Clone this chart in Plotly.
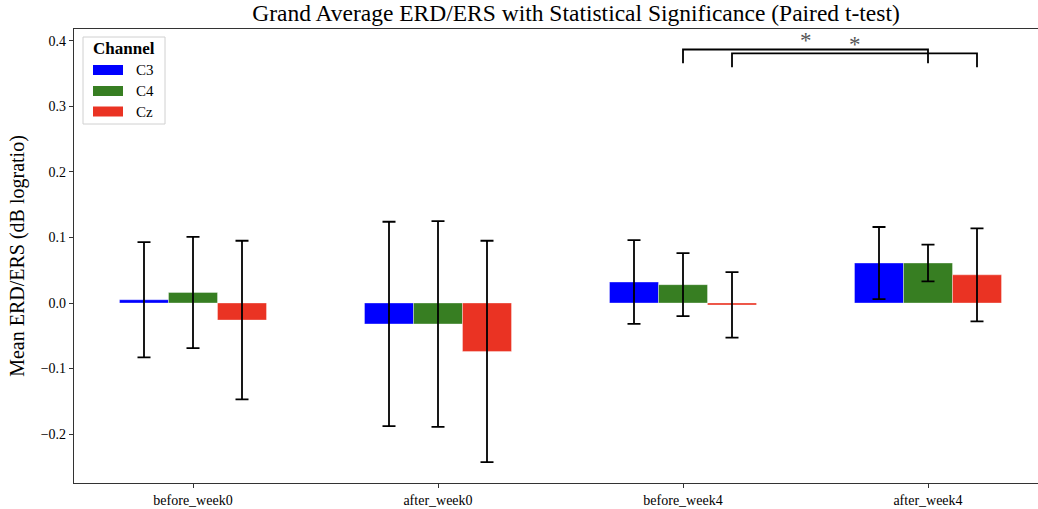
import plotly.graph_objects as go

# ---- data ----
conditions = ["before_week0", "after_week0", "before_week4", "after_week4"]
channels = ["C3", "C4", "Cz"]

c3_mean = [0.005, -0.032, 0.032, 0.061]
c4_mean = [0.016, -0.032, 0.028, 0.061]
cz_mean = [-0.026, -0.074, -0.003, 0.043]

c3_sem = [0.088, 0.156, 0.064, 0.055]
c4_sem = [0.085, 0.157, 0.048, 0.028]
cz_sem = [0.121, 0.169, 0.050, 0.071]

colors = ["#0000ff", "#377e22", "#ea3323"]

# significant pairs: (channel, condition a, condition b, bracket top, label)
sig_channel = ["C4", "Cz"]
sig_from = ["before_week4", "before_week4"]
sig_to = ["after_week4", "after_week4"]
sig_height = [0.387, 0.381]
sig_label = ["*", "*"]

# ---- layout geometry (pixels) ----
W, H = 1038, 509
ML, MR, MT, MB = 74, 0, 29, 26
PW, PH = W - ML - MR, H - MT - MB
FONT = "Liberation Serif"


def px_x(p):
    return (p - ML) / PW


def px_y(p):
    return (H - MB - p) / PH


means = [c3_mean, c4_mean, cz_mean]
sems = [c3_sem, c4_sem, cz_sem]

fig = go.Figure()
for name, m, e, col in zip(channels, means, sems, colors):
    fig.add_trace(go.Bar(
        x=conditions, y=m, name=name,
        marker=dict(color=col, line=dict(color="rgba(255,255,255,0.35)", width=1)),
        error_y=dict(type="data", array=e, visible=True, color="black",
                     thickness=1.8, width=6.5),
        showlegend=False,
    ))

# bar offsets within a group (3 bars of width 0.2)
bar_w = 0.2
offsets = {ch: (i - 1) * bar_w for i, ch in enumerate(channels)}

shapes = []
annotations = []
for ch, a, b, top, lab in zip(sig_channel, sig_from, sig_to, sig_height, sig_label):
    xa = conditions.index(a) + offsets[ch]
    xb = conditions.index(b) + offsets[ch]
    leg = 0.021
    shapes.append(dict(
        type="path", xref="x", yref="y",
        path=f"M {xa},{top - leg} L {xa},{top} L {xb},{top} L {xb},{top - leg}",
        line=dict(color="black", width=1.8),
    ))
    annotations.append(dict(
        x=(xa + xb) / 2, y=top + 0.013, xref="x", yref="y", text=lab,
        showarrow=False, yanchor="middle", xanchor="center",
        font=dict(family=FONT, size=23, color="#555555"),
    ))

# legend box
shapes.append(dict(type="rect", xref="paper", yref="paper",
                   x0=px_x(83), x1=px_x(165), y0=px_y(124), y1=px_y(37),
                   line=dict(color="#d0d0d0", width=1), fillcolor="rgba(255,255,255,0.8)"))
annotations.append(dict(x=px_x(124), y=px_y(48), xref="paper", yref="paper",
                        text="<b>Channel</b>", showarrow=False,
                        xanchor="center", yanchor="middle",
                        font=dict(family=FONT, size=17, color="black")))
row_y = [70, 91, 111.5]
for ch, col, ry in zip(channels, colors, row_y):
    shapes.append(dict(type="rect", xref="paper", yref="paper",
                       x0=px_x(93), x1=px_x(123), y0=px_y(ry + 5), y1=px_y(ry - 5),
                       line=dict(width=0), fillcolor=col))
    annotations.append(dict(x=px_x(134), y=px_y(ry), xref="paper", yref="paper",
                            text=ch, showarrow=False, xanchor="left", yanchor="middle",
                            font=dict(family=FONT, size=15, color="black")))

fig.update_layout(
    width=W, height=H,
    margin=dict(l=ML, r=MR, t=MT, b=MB, pad=0),
    paper_bgcolor="white", plot_bgcolor="white",
    barmode="group", bargap=0.4, bargroupgap=0,
    font=dict(family=FONT, size=14, color="black"),
    title=dict(text="Grand Average ERD/ERS with Statistical Significance (Paired t-test)",
               x=576 / W, xanchor="center", y=1 - 13 / H, yanchor="middle",
               font=dict(family=FONT, size=23.5, color="black")),
    shapes=shapes, annotations=annotations,
)
fig.update_xaxes(
    type="category", range=[-0.4857, -0.4857 + PW / 245.0],
    showline=True, linecolor="#333333", linewidth=1.2, mirror=True,
    ticks="outside", ticklen=4, tickcolor="#333333", tickwidth=1,
    showgrid=False, zeroline=False,
    tickfont=dict(family=FONT, size=14),
)
fig.update_yaxes(
    range=[-0.2748, 0.4183], tickvals=[-0.2, -0.1, 0.0, 0.1, 0.2, 0.3, 0.4],
    tickformat=".1f",
    showline=True, linecolor="#333333", linewidth=1.2,
    ticks="outside", ticklen=4, tickcolor="#333333", tickwidth=1,
    showgrid=False, zeroline=False,
    tickfont=dict(family=FONT, size=14),
    title=dict(text="Mean ERD/ERS (dB logratio)", standoff=10,
               font=dict(family=FONT, size=20)),
)

fig.write_html("out.html")
